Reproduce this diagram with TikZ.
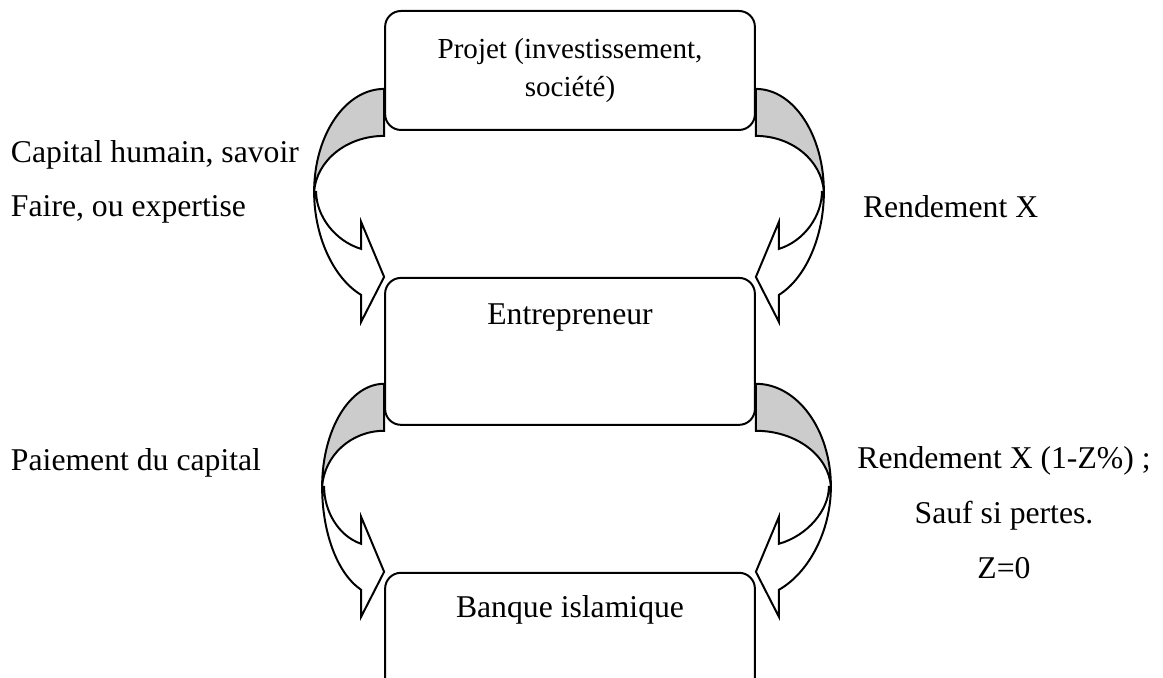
\documentclass[tikz,border=0pt]{standalone}
\usepackage{fontspec}
\setmainfont{Liberation Serif}
\usetikzlibrary{positioning,calc}

\begin{document}
\begin{tikzpicture}[
      x=0.0133cm, y=-0.0133cm,
      line width=0.75pt,
      font=\fontsize{12}{20.8}\selectfont,
      % Styles
      bloc/.style={
        rectangle, draw, rounded corners=6pt,
        minimum width=4.92cm, inner sep=0pt, align=center
      },
      fleche/.style={
        draw, line width=0.75pt, line join=miter
      },
      etiquette/.style={
        inner sep=0pt, align=left
      },
      % curved block arrow, origin at the tip, #1 = how far it bulges out
      pics/courbe/.style={code={
        % back part (shaded)
        \draw[fleche, fill=black!20] (0,-188)
          .. controls (-0.553*#1,-188) and (-#1,-142) .. (-#1,-85)
          .. controls (-#1+2,-116) and ({-0.553*(#1-2)},-141) .. (0,-141) -- cycle;
        % front part with the head
        \draw[fleche, fill=white] (-#1,-85)
          .. controls (-#1,-41) and ({-23-0.4*#1},1) .. (-23,18)
          -- (-23,45) -- (0,0) -- (-23,-55) -- (-23,-28)
          .. controls ({-23-0.39*(#1-2)},-36) and (-#1+2,-61.5) .. (-#1+2,-85) -- cycle;
      }}
    ]

    \useasboundingbox (0,0) rectangle (1163,678);
    \clip (0,0) rectangle (1163,678);

    % --- 1. BLOCS ---
    \node[bloc, font=\fontsize{11}{14.5}\selectfont, minimum height=1.583cm, anchor=north] (proj) at (570,10) {Projet (investissement,\\société)};
    \node[bloc, below=1.942cm of proj, text height=0.625cm, text depth=1.33cm] (entr) {Entrepreneur};
    \node[bloc, below=1.942cm of entr, text height=0.6cm, text depth=1.02cm] (banque) {Banque islamique};

    % --- 2. FLECHES ---
    \pic at (entr.north west) {courbe=70};
    \pic[xscale=-1] at (entr.north east) {courbe=68};
    \pic at (banque.north west) {courbe=62};
    \pic[xscale=-1] at (banque.north east) {courbe=75};

    % --- 3. TEXTES (base = last line) ---
    \node[etiquette, anchor=base west] (capital) at (10,217) {Capital humain, savoir\\Faire, ou expertise};
    \node[etiquette, anchor=base west] (rendx) at (862,218) {Rendement X};
    \node[etiquette, anchor=base west] (paiement) at (10,470) {Paiement du capital};
    \node[etiquette, align=center, anchor=base] (rendz) at (1004,578) {Rendement X (1-Z\%) ;\\Sauf si pertes.\\Z=0};

    \end{tikzpicture}
\end{document}
